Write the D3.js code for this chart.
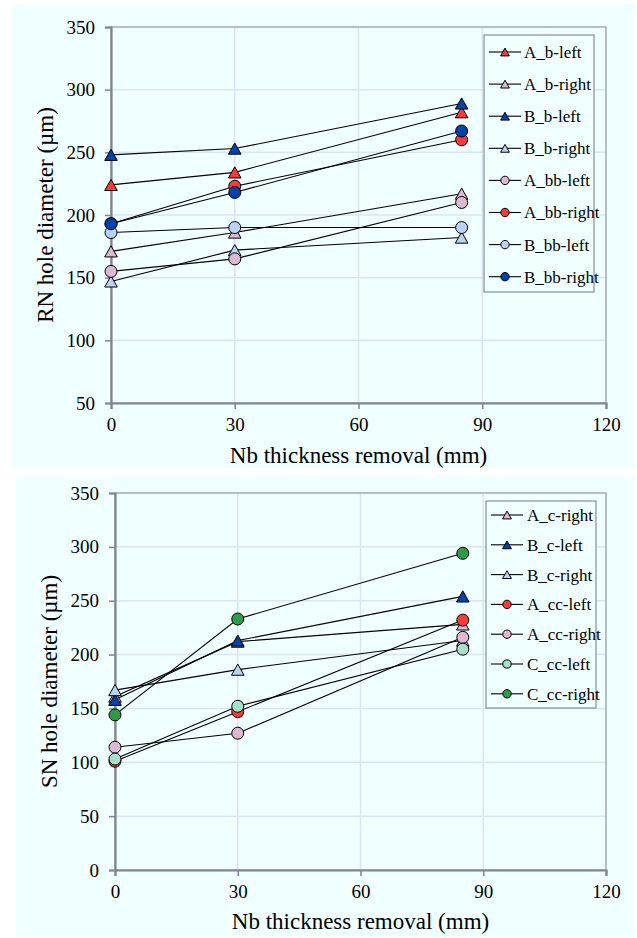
<!DOCTYPE html>
<html>
<head>
<meta charset="utf-8">
<script src="https://cdn.jsdelivr.net/npm/d3@7"></script>
<style>
  body { margin: 0; background: #ffffff; }
  svg { display: block; font-family: "Liberation Serif", "Times New Roman", serif; }
</style>
</head>
<body>
<div id="canvas"></div>
<script>
// x positions (Nb thickness removal, mm)
const thickness = [0, 30, 85];
const xTicks = [0, 30, 60, 90, 120];

// top chart: RN hole diameter
const rnNames = ["A_b-left", "A_b-right", "B_b-left", "B_b-right", "A_bb-left", "A_bb-right", "B_bb-left", "B_bb-right"];
const rnValues = [
  [224, 234, 282],
  [171, 186, 217],
  [248, 253, 289],
  [147, 172, 182],
  [155, 165, 210],
  [193, 223, 260],
  [186, 190, 190],
  [193, 218, 267]
];
const rnTicks = [50, 100, 150, 200, 250, 300, 350];

// bottom chart: SN hole diameter
const snNames = ["A_c-right", "B_c-left", "B_c-right", "A_cc-left", "A_cc-right", "C_cc-left", "C_cc-right"];
const snValues = [
  [161, 212, 228],
  [158, 213, 254],
  [167, 186, 213],
  [101, 147, 232],
  [114, 127, 216],
  [103, 152, 205],
  [144, 233, 294]
];
const snTicks = [0, 50, 100, 150, 200, 250, 300, 350];

// marker look per series
const markerFill = {
  "A_b-left": "#f53b3b", "A_b-right": "#dcb9d3", "B_b-left": "#0042aa", "B_b-right": "#b8d3f3",
  "A_bb-left": "#dcb9d3", "A_bb-right": "#f53b3b", "B_bb-left": "#b8d3f3", "B_bb-right": "#0042aa",
  "A_c-right": "#dcb9d3", "B_c-left": "#0042aa", "B_c-right": "#b8d3f3",
  "A_cc-left": "#f53b3b", "A_cc-right": "#dcb9d3", "C_cc-left": "#a9dec9", "C_cc-right": "#2e9a4a"
};
const isTriangle = name => /_(b|c)-/.test(name);

const width = 637;
const height = 938;
const bg = "#f0ffff";
const gridColor = "#d9e4f7";
const axisColor = "#7f8394";

const svg = d3.select("#canvas").append("svg")
  .attr("width", width)
  .attr("height", height);

function drawMarker(g, name, x, y, s) {
  if (isTriangle(name)) {
    const hw = 6.3 * s, hh = 5.6 * s;
    g.append("path")
      .attr("d", `M${x},${y - hh}L${x + hw},${y + hh}L${x - hw},${y + hh}Z`)
      .attr("fill", markerFill[name])
      .attr("stroke", "#000")
      .attr("stroke-width", 1);
  } else {
    g.append("circle")
      .attr("cx", x).attr("cy", y).attr("r", 6 * s)
      .attr("fill", markerFill[name])
      .attr("stroke", "#000")
      .attr("stroke-width", 1);
  }
}

function drawPanel(p) {
  svg.append("rect")
    .attr("x", p.panel[0]).attr("y", p.panel[1])
    .attr("width", p.panel[2] - p.panel[0]).attr("height", p.panel[3] - p.panel[1])
    .attr("fill", bg);

  const x = d3.scaleLinear().domain([0, 120]).range([p.left, p.right]);
  const y = d3.scaleLinear().domain(p.yDomain).range([p.bottom, p.top]);

  // grid
  const grid = svg.append("g");
  grid.selectAll("line.h").data(p.yTicks).enter().append("line")
    .attr("x1", p.left).attr("x2", p.right)
    .attr("y1", d => y(d)).attr("y2", d => y(d))
    .attr("stroke", gridColor).attr("stroke-width", 1.5);
  grid.selectAll("line.v").data(xTicks.slice(1)).enter().append("line")
    .attr("x1", d => x(d)).attr("x2", d => x(d))
    .attr("y1", p.top).attr("y2", p.bottom)
    .attr("stroke", gridColor).attr("stroke-width", 1.5);

  // plot frame
  svg.append("rect")
    .attr("x", p.left).attr("y", p.top)
    .attr("width", p.right - p.left).attr("height", p.bottom - p.top)
    .attr("fill", "none").attr("stroke", "#9aa0b0").attr("stroke-width", 1.2);

  // axes
  const xAxis = svg.append("g")
    .attr("transform", `translate(0,${p.bottom})`)
    .call(d3.axisBottom(x).tickValues(xTicks).tickSize(6).tickPadding(9));
  const yAxis = svg.append("g")
    .attr("transform", `translate(${p.left},0)`)
    .call(d3.axisLeft(y).tickValues(p.yTicks).tickSize(6).tickPadding(10));
  [xAxis, yAxis].forEach(a => {
    a.select(".domain").attr("stroke", axisColor).attr("stroke-width", 2.2);
    a.selectAll(".tick line").attr("stroke", axisColor).attr("stroke-width", 1.5);
    a.selectAll(".tick text")
      .attr("fill", "#000")
      .style("font-family", "Liberation Serif, serif")
      .style("font-size", "19px");
  });
  xAxis.selectAll(".tick text").attr("dy", "0.71em");

  // series
  const line = d3.line().x((d, i) => x(thickness[i])).y(d => y(d));
  const plot = svg.append("g");
  p.names.forEach((name, k) => {
    plot.append("path")
      .datum(p.values[k])
      .attr("d", line)
      .attr("fill", "none")
      .attr("stroke", "#000")
      .attr("stroke-width", 1.1);
  });
  p.names.forEach((name, k) => {
    p.values[k].forEach((v, i) => drawMarker(plot, name, x(thickness[i]), y(v), 1));
  });

  // titles
  svg.append("text")
    .attr("x", (p.left + p.right) / 2).attr("y", p.xTitleY)
    .attr("text-anchor", "middle")
    .style("font-size", "23px")
    .text("Nb thickness removal (mm)");
  svg.append("text")
    .attr("transform", `translate(${p.yTitleX},${(p.top + p.bottom) / 2}) rotate(-90)`)
    .attr("text-anchor", "middle")
    .style("font-size", "23px")
    .text(p.yTitle);

  // legend
  const lg = p.legend;
  svg.append("rect")
    .attr("x", lg.x0).attr("y", lg.y0)
    .attr("width", lg.x1 - lg.x0).attr("height", lg.y1 - lg.y0)
    .attr("fill", bg).attr("stroke", "#8d96a6").attr("stroke-width", 1.3);
  p.names.forEach((name, k) => {
    const yy = lg.first + k * lg.step;
    svg.append("line")
      .attr("x1", lg.lx0).attr("x2", lg.lx1)
      .attr("y1", yy).attr("y2", yy)
      .attr("stroke", "#000").attr("stroke-width", 1.1);
    drawMarker(svg, name, (lg.lx0 + lg.lx1) / 2, yy, 0.7);
    svg.append("text")
      .attr("x", lg.tx).attr("y", yy)
      .attr("dy", "0.35em")
      .style("font-size", "17px")
      .text(name);
  });
}

drawPanel({
  panel: [12, 4, 635, 468],
  left: 111, right: 606, top: 27, bottom: 403,
  yDomain: [50, 350], yTicks: rnTicks,
  names: rnNames, values: rnValues,
  xTitleY: 463, yTitleX: 53,
  yTitle: "RN hole diameter (µm)",
  legend: { x0: 484, x1: 594, y0: 35, y1: 292, first: 52, step: 32.1, lx0: 489, lx1: 521, tx: 524 }
});

drawPanel({
  panel: [16, 475, 635, 937],
  left: 115, right: 606, top: 493, bottom: 870,
  yDomain: [0, 350], yTicks: snTicks,
  names: snNames, values: snValues,
  xTitleY: 929, yTitleX: 57,
  yTitle: "SN hole diameter (µm)",
  legend: { x0: 486, x1: 596, y0: 501, y1: 708, first: 515, step: 29.8, lx0: 491, lx1: 523, tx: 527 }
});
</script>
</body>
</html>
